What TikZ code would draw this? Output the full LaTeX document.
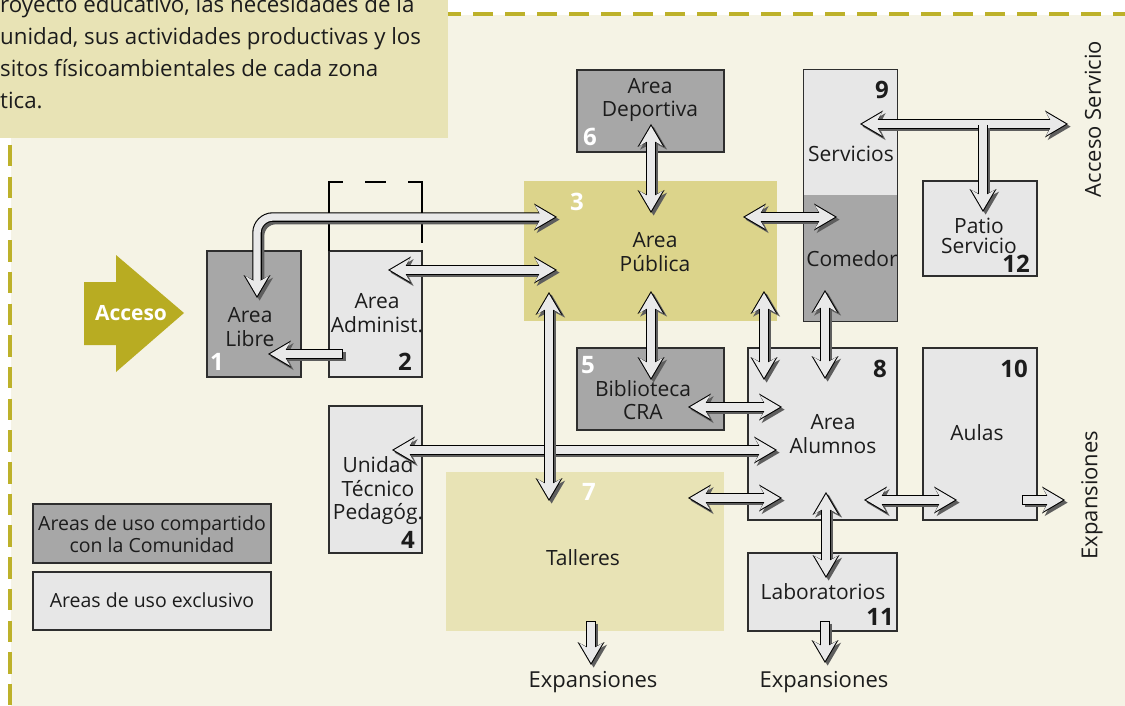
\documentclass[tikz,border=0pt]{standalone}
\usepackage{fontspec}
\setmainfont{Open Sans}
\usetikzlibrary{arrows.meta,fit}

\definecolor{paper}{HTML}{F5F3E5}
\definecolor{khaki}{HTML}{E8E3B5}
\definecolor{khakideep}{HTML}{DCD48B}
\definecolor{olive}{HTML}{B8AC22}
\definecolor{dashol}{HTML}{BDB12A}
\definecolor{boxlight}{HTML}{E7E7E7}
\definecolor{boxdark}{HTML}{A7A7A7}
\definecolor{boxline}{HTML}{2E2E2E}
\definecolor{ink}{HTML}{1C1C1C}
\definecolor{shade}{HTML}{5E5E5E}
\definecolor{arrowfill}{HTML}{E9E9E9}

\tikzset{
  % block arrows: shadow pass, black outline pass, light core
  shadowpass/.style={draw=shade, line width=9.5pt, shorten <=0pt, shorten >=0pt,
    >={Stealth[length=23pt,width=27pt,inset=7pt,line width=0pt]},
    transform canvas={shift={(2.6pt,-2.6pt)}}, arrows=#1},
  linepass/.style={draw=black, line width=9.5pt, shorten <=0pt, shorten >=0pt,
    >={Stealth[length=23pt,width=27pt,inset=7pt,line width=0pt]}, arrows=#1},
  twoway/.style={preaction={shadowpass=<->}, preaction={linepass=<->},
    draw=arrowfill, line width=7.3pt,
    >={Stealth[length=20pt,width=23.5pt,inset=7pt,line width=0pt]}, <->,
    shorten <=2.1pt, shorten >=2.1pt},
  oneway/.style={preaction={shadowpass=->}, preaction={linepass=->},
    draw=arrowfill, line width=7.3pt,
    >={Stealth[length=20pt,width=23.5pt,inset=7pt,line width=0pt]}, ->,
    shorten <=1.1pt, shorten >=2.1pt},
  lightbox/.style={fill=boxlight, draw=boxline, line width=1.1pt, inner sep=0pt},
  darkbox/.style={fill=boxdark, draw=boxline, line width=1.1pt, inner sep=0pt},
  flatbox/.style={inner sep=0pt},
  lbl/.style={font=\fontsize{21}{23.5}\selectfont, align=center, inner sep=0pt, text=ink},
  outlbl/.style={font=\fontsize{22}{24}\selectfont, inner sep=0pt, text=ink},
  leg/.style={font=\fontsize{19.5}{22}\selectfont, align=center, inner sep=0pt, text=ink},
  intro/.style={font=\fontsize{22.3}{26}\selectfont, inner sep=0pt, text=ink, anchor=base west},
  num/.style={font=\fontsize{24}{24}\selectfont\bfseries, inner sep=0pt, text=ink},
  wnum/.style={num, text=white},
}

\begin{document}
\begin{tikzpicture}[x=1pt,y=-1pt]
\useasboundingbox (0,0) rectangle (1125,706);
\clip (0,0) rectangle (1125,706);

% page ground and dashed frame
\fill[white] (0,0) rectangle (1125,706);
\fill[paper] (11,15) rectangle (1125,706);
\draw[dashol, line width=4pt, dash pattern=on 20pt off 12pt] (441,14) -- (1125,14);
\draw[dashol, line width=4pt, dash pattern=on 21.5pt off 10.2pt] (10,145) -- (10,706);

% intro text panel
\fill[khaki] (0,0) rectangle (448,138);
\node[intro] (t1) at (0,13) {royecto educativo, las necesidades de la};
\node[intro] (t2) at (0,45) {unidad, sus actividades productivas y los};
\node[intro] (t3) at (0,77) {sitos físicoambientales de cada zona};
\node[intro] (t4) at (0,109) {tica.};

% entrance arrow
\fill[olive] (84,282) -- (116,282) -- (116,255) -- (184,313) -- (116,372)
  -- (116,345) -- (84,345) -- cycle;
\node[font=\fontsize{21}{21}\selectfont\bfseries, text=white, inner sep=0pt] (acceso) at (131,313) {Acceso};

% areas
\node[darkbox, fit={(207,251) (301,377)}] (libre) {};
\node[lightbox, fit={(329,251) (422,377)}] (admin) {};
\node[flatbox, fill=khakideep, fit={(524,181) (777,321)}] (pub) {};
\node[lightbox, fit={(329,406) (422,553)}] (utp) {};
\node[darkbox, fit={(577,348) (724,430)}] (bib) {};
\node[darkbox, fit={(577,70) (724,152)}] (dep) {};
\node[flatbox, fill=boxlight, fit={(804,70) (897,195)}] (serv) {};
\node[flatbox, fill=boxdark, fit={(804,195) (897,321)}] (com) {};
\draw[boxline, line width=1.1pt] (serv.north west) rectangle (com.south east);
\node[lightbox, fit={(923,181) (1037,276)}] (patio) {};
\node[lightbox, fit={(748,348) (897,520)}] (alum) {};
\node[lightbox, fit={(923,348) (1037,520)}] (aulas) {};
\node[lightbox, fit={(748,553) (897,631)}] (lab) {};
\node[flatbox, fill=khaki, fit={(446,472) (724,631)}] (tall) {};

% legend
\node[darkbox, fit={(33,504) (271,563)}] (legA) {};
\node[lightbox, fit={(33,572) (271,630)}] (legB) {};
\node[leg] (legAt) at (152,534) {Areas de uso compartido\\con la Comunidad};
\node[leg] (legBt) at (152,600) {Areas de uso exclusivo};

% reserve outline above the administration block
\draw[black, line width=1.4pt] (329,251) -- (329,182) -- (343,182);
\draw[black, line width=1.4pt] (365,182) -- (386,182);
\draw[black, line width=1.4pt] (408,182) -- (422,182) -- (422,243);

% area names
\node[lbl] (libreT) at (250,327) {Area\\Libre};
\node[lbl] (adminT) at (377,313) {Area\\Administ.};
\node[lbl] (pubT) at (655,252) {Area\\Pública};
\node[lbl] (utpT) at (378,491) {Unidad\\Técnico\\Pedagóg.};
\node[lbl] (bibT) at (643,400) {Biblioteca\\CRA};
\node[lbl] (depT) at (650,100) {Area\\Deportiva};
\node[lbl] (servT) at (851,154) {Servicios};
\node[lbl] (comT) at (852,259) {Comedor};
\node[lbl, font=\fontsize{21}{19.5}\selectfont] (patioT) at (979,236) {Patio\\Servicio};
\node[lbl] (alumT) at (833,434) {Area\\Alumnos};
\node[lbl] (aulasT) at (977,433) {Aulas};
\node[lbl] (labT) at (823,592) {Laboratorios};
\node[lbl] (tallT) at (583,558) {Talleres};

% area numbers
\node[wnum] (n1) at (217,362) {1};
\node[num] (n2) at (405,362) {2};
\node[wnum] (n3) at (577,202) {3};
\node[num] (n4) at (408,540) {4};
\node[wnum] (n5) at (588,365) {5};
\node[wnum] (n6) at (590,137) {6};
\node[wnum] (n7) at (589,492) {7};
\node[num] (n8) at (880,369) {8};
\node[num] (n9) at (882,90) {9};
\node[num] (n10) at (1014,369) {10};
\node[num] (n11) at (880,617) {11};
\node[num] (n12) at (1016,264) {12};

% outer labels
\node[outlbl] (expL) at (593,682) {Expansiones};
\node[outlbl] (expM) at (824,682) {Expansiones};
\node[outlbl, rotate=90] (expR) at (1092,495) {Expansiones};
\node[outlbl, rotate=90] (accS) at (1093,119) {Acceso Servicio};

% connector end points
\coordinate (pubA) at (557,217);   \coordinate (libreA) at (257,298);
\coordinate (adminB) at (388,270); \coordinate (pubB) at (557,270);
\coordinate (adminC) at (343,354); \coordinate (libreC) at (268,354);
\coordinate (depD) at (651,124);   \coordinate (pubD) at (651,213);
\coordinate (pubE) at (651,291);   \coordinate (bibE) at (651,380);
\coordinate (pubF) at (764,291);   \coordinate (alumF) at (764,380);
\coordinate (pubG) at (743,217);   \coordinate (comG) at (837,217);
\coordinate (comH) at (825,290);   \coordinate (alumH) at (825,379);
\coordinate (bibI) at (688,407);   \coordinate (alumI) at (782,407);
\coordinate (utpJ) at (392,450);   \coordinate (alumJ) at (777,450);
\coordinate (pubK) at (549,292);   \coordinate (tallK) at (549,501);
\coordinate (tallL) at (688,498);  \coordinate (alumL) at (782,498);
\coordinate (alumM) at (864,500);  \coordinate (aulasM) at (957,500);
\coordinate (alumN) at (826,492);  \coordinate (labN) at (826,578);
\coordinate (labO) at (825,621);   \coordinate (expO) at (825,663);
\coordinate (tallP) at (591,621);  \coordinate (expP) at (591,665);
\coordinate (aulasQ) at (1022,500); \coordinate (expQ) at (1065,500);
\coordinate (servR) at (860,124);  \coordinate (accR) at (1068,124);
\coordinate (joinS) at (983,125);  \coordinate (patioS) at (983,212);

% circulation
\draw[twoway, rounded corners=16pt] (pubA) -| (libreA);
\draw[twoway] (adminB) -- (pubB);
\draw[oneway] (adminC) -- (libreC);
\draw[twoway] (depD) -- (pubD);
\draw[twoway] (pubE) -- (bibE);
\draw[twoway] (pubF) -- (alumF);
\draw[twoway] (pubG) -- (comG);
\draw[twoway] (comH) -- (alumH);
\draw[twoway] (bibI) -- (alumI);
\draw[twoway] (utpJ) -- (alumJ);
\draw[twoway] (pubK) -- (tallK);
\draw[twoway] (tallL) -- (alumL);
\draw[twoway] (alumM) -- (aulasM);
\draw[twoway] (alumN) -- (labN);
\draw[oneway] (labO) -- (expO);
\draw[oneway] (tallP) -- (expP);
\draw[oneway] (aulasQ) -- (expQ);
\draw[twoway] (servR) -- (accR);
\draw[oneway, shorten <=0pt] (joinS) -- (patioS);
\end{tikzpicture}
\end{document}
